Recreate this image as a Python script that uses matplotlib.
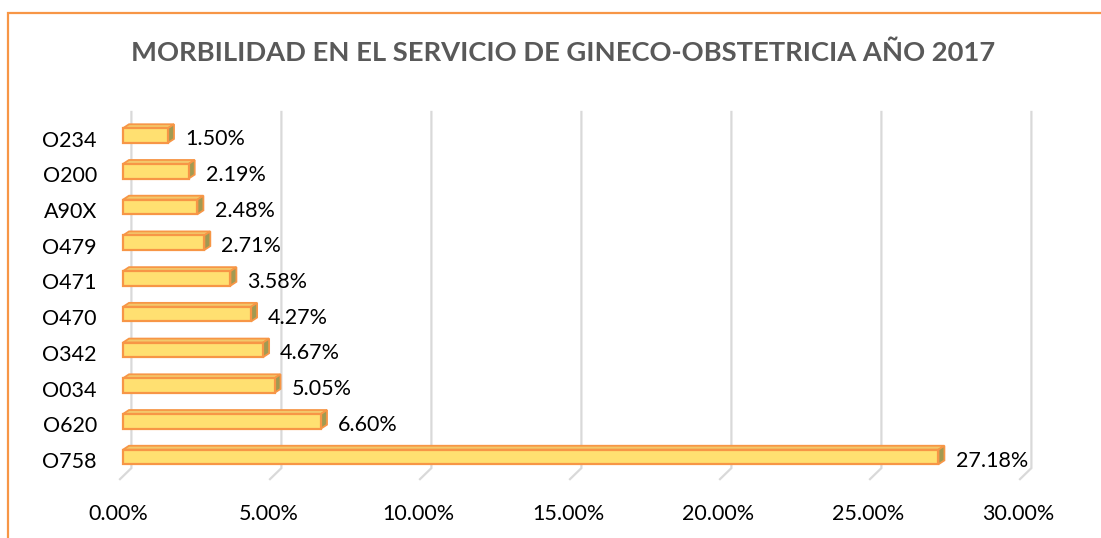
import matplotlib
matplotlib.use("Agg")
import matplotlib.pyplot as plt
from matplotlib.patches import Polygon, Rectangle
from matplotlib.lines import Line2D

# Diagnoses (bottom to top) and their share of cases, in percent
categories = ["O758", "O620", "O034", "O342", "O470", "O471", "O479", "A90X", "O200", "O234"]
values = [27.18, 6.60, 5.05, 4.67, 4.27, 3.58, 2.71, 2.48, 2.19, 1.50]
x_ticks = [0, 5, 10, 15, 20, 25, 30]
x_tick_labels = ["0.00%", "5.00%", "10.00%", "15.00%", "20.00%", "25.00%", "30.00%"]
title = "MORBILIDAD EN EL SERVICIO DE GINECO-OBSTETRICIA AÑO 2017"

FONT = ["Lato", "DejaVu Sans"]
FS = 15.5
W, H = 1101, 538
fig = plt.figure(figsize=(W / 100, H / 100), dpi=100)
fig.patch.set_facecolor("white")

# axes placed in pixel terms: left 100, right 1060, top 100, bottom 490
left_px, right_px, top_px, bot_px = 100, 1060, 100, 490
ax = fig.add_axes([left_px / W, 1 - bot_px / H, (right_px - left_px) / W, (bot_px - top_px) / H])
ax.set_xlim(-0.767, 31.233)
ax.set_ylim(-0.924, 9.994)
for s in ax.spines.values():
    s.set_visible(False)

# 3D look parameters
back_dx = 0.28      # back wall offset (x, in %)
floor_front = -0.1  # floor front edge offset
grid_top, grid_bot, floor_y = 9.66, -0.31, -0.62
half_h = 0.205
dx, dy = 0.2, 0.11

grid_col = "#d9d9d9"
for t in x_ticks:
    ax.add_line(Line2D([t + back_dx, t + back_dx, t + floor_front],
                       [grid_top, grid_bot, floor_y],
                       color=grid_col, lw=1.6, zorder=1, solid_joinstyle="miter"))

face = "#FFE071"
side = "#A19A52"
edge = "#F79646"
for i, v in enumerate(values):
    y0, y1 = i - half_h, i + half_h
    top = Polygon([(0, y1), (v, y1), (v + dx, y1 + dy), (dx, y1 + dy)],
                  closed=True, facecolor="#F3C86A", edgecolor=edge, lw=1.3, zorder=3)
    sidep = Polygon([(v, y0), (v, y1), (v + dx, y1 + dy), (v + dx, y0 + dy)],
                    closed=True, facecolor=side, edgecolor=edge, lw=1.3, zorder=3)
    front = Rectangle((0, y0), v, y1 - y0, facecolor=face, edgecolor=edge, lw=1.6, zorder=4)
    ax.add_patch(top)
    ax.add_patch(sidep)
    ax.add_patch(front)
    ax.text(v + 0.57, i - 0.1, f"{v:.2f}%", ha="left", va="center",
            fontsize=FS, family=FONT, color="#000000", zorder=5)
    # category label to the left of the bar
    ax.text(-0.87, i - 0.14, categories[i], ha="right", va="center",
            fontsize=FS, family=FONT, color="#000000", clip_on=False)

ax.set_yticks([])
ax.set_xticks([t - 0.15 for t in x_ticks])
ax.set_xticklabels(x_tick_labels, fontsize=FS, family=FONT, color="#000000")
ax.tick_params(axis="x", length=0, pad=10)

fig.text(563 / W, 1 - 53 / H, title, ha="center", va="center",
         fontsize=19.7, fontweight="bold", family=FONT, color="#595959")

# chart frame (top and left edges visible)
frame_col = "#F79646"
fig.add_artist(Line2D([8 / W, 8 / W, 1.0], [0.0, 1 - 13 / H, 1 - 13 / H],
                      transform=fig.transFigure, color=frame_col, lw=1.6,
                      solid_joinstyle="miter"))

fig.savefig("out.png", dpi=100, facecolor="white")
